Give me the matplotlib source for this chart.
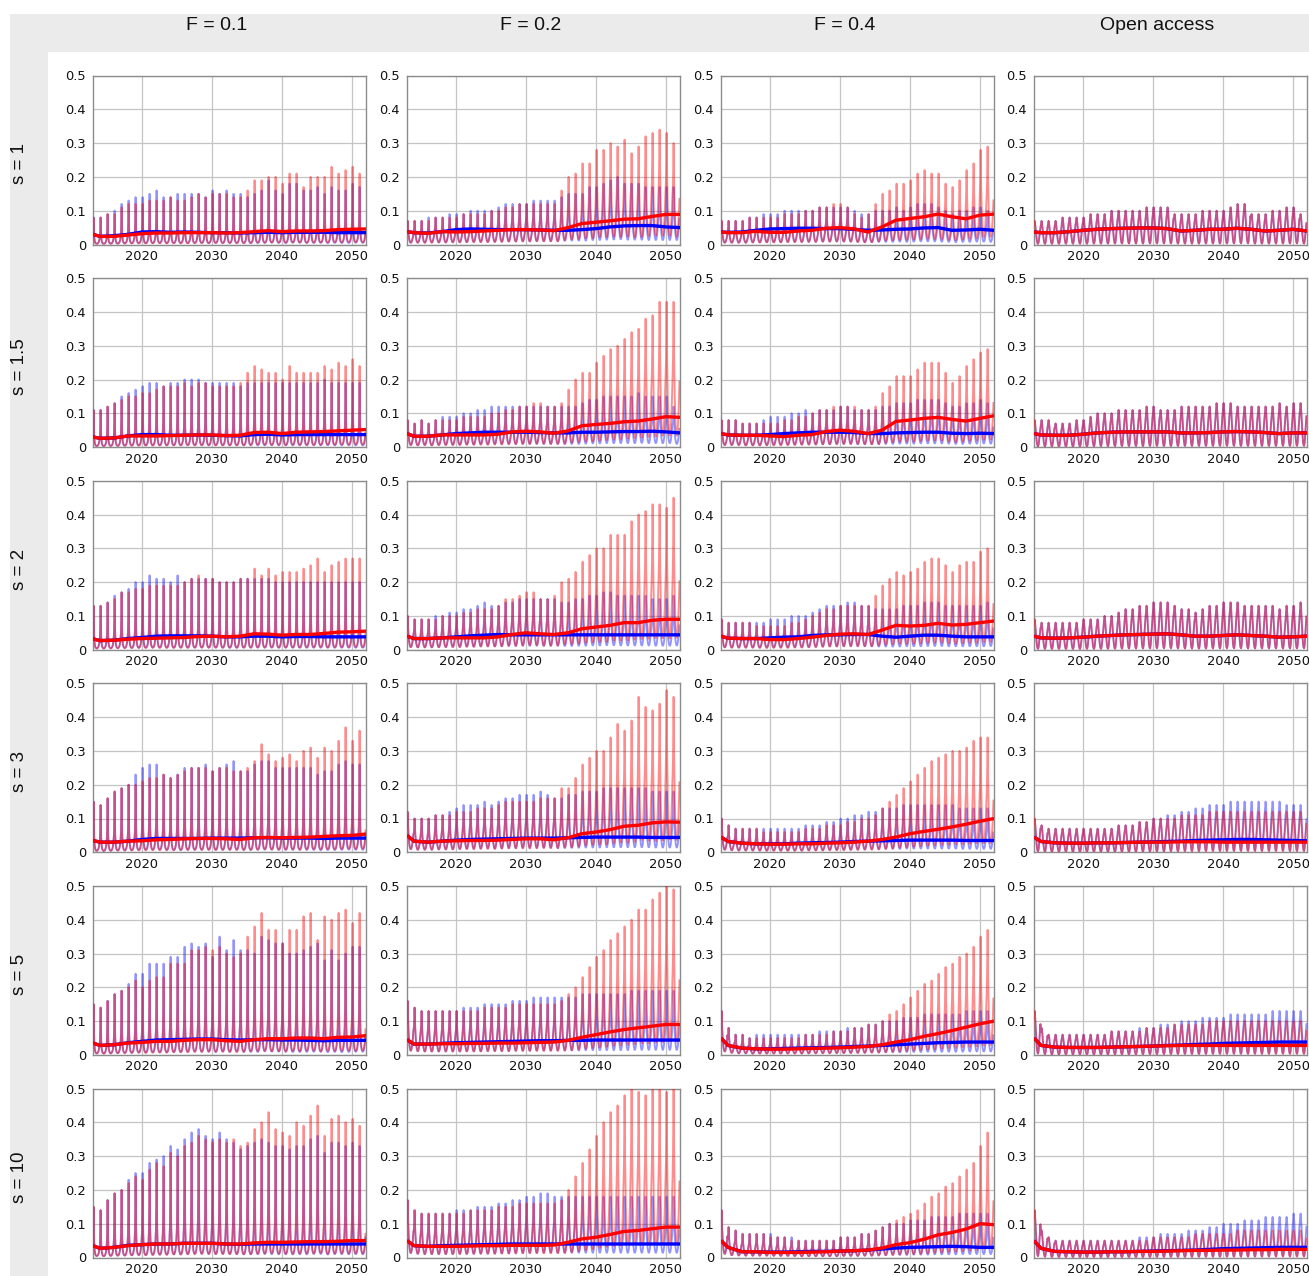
import numpy as np
import matplotlib
matplotlib.use("Agg")
import matplotlib.pyplot as plt
from matplotlib.patches import Rectangle

# ---------------- data ----------------
COLUMNS = ["F = 0.1", "F = 0.2", "F = 0.4", "Open access"]
ROWS = ["s = 1", "s = 1.5", "s = 2", "s = 3", "s = 5", "s = 10"]
PEAK_YEARS = list(range(2013, 2052))          # one seasonal peak per year
MEAN_YEARS = [2013, 2014, 2016, 2018, 2020, 2022, 2024, 2026, 2028, 2030, 2032,
              2034, 2036, 2038, 2040, 2042, 2044, 2046, 2048, 2050, 2052]
X_TICKS = [2020, 2030, 2040, 2050]
Y_TICKS = [0, 0.1, 0.2, 0.3, 0.4, 0.5]
Y_TICK_LABELS = ["0", "0.1", "0.2", "0.3", "0.4", "0.5"]

# seasonal (monthly) shape of each yearly cycle, as a fraction of the yearly peak
SEASON_F01 = [0.30, 1.00, 0.30, 0.12, 0.06, 0.04, 0.03, 0.03, 0.04, 0.06, 0.10, 0.18]
SEASON_F02 = [0.60, 1.00, 0.60, 0.35, 0.20, 0.12, 0.08, 0.08, 0.12, 0.20, 0.30, 0.45]
SEASON_F04 = [0.60, 1.00, 0.60, 0.35, 0.20, 0.12, 0.08, 0.08, 0.12, 0.20, 0.30, 0.45]
SEASON_OA = [0.85, 1.00, 0.85, 0.60, 0.35, 0.15, 0.05, 0.03, 0.10, 0.30, 0.50, 0.70]

# yearly peaks (hundredths), rows s = 1, 1.5, 2, 3, 5, 10
RED_PEAK_F01 = [
    [8,8,9,9,11,12,12,12,13,13,13,14,13,13,14,15,14,15,15,15,14,14,16,19,19,20,20,18,21,21,17,20,20,20,23,21,22,23,21],
    [11,11,12,13,14,15,15,16,16,17,18,18,18,19,18,19,19,18,18,18,18,19,22,24,23,22,22,20,24,22,22,22,22,24,23,25,24,26,24],
    [13,13,14,15,17,17,18,18,19,19,19,19,19,20,21,22,21,21,20,20,20,21,21,24,22,24,22,23,23,23,24,25,27,23,25,26,27,27,27],
    [15,14,16,18,19,20,20,21,22,22,23,22,23,24,25,25,25,24,25,25,24,24,25,27,32,29,27,28,29,27,30,31,28,31,30,33,37,33,36],
    [15,14,16,18,19,20,22,20,22,23,23,27,27,27,31,31,32,31,32,30,29,30,35,38,42,37,37,33,37,37,41,42,34,41,40,42,43,39,42],
    [15,14,17,19,20,22,24,23,26,28,27,31,30,33,34,36,35,34,35,34,35,33,34,38,40,43,38,37,36,40,39,42,45,36,41,42,40,41,39],
]
BLUE_PEAK_F01 = [
    [8,8,9,10,12,13,14,14,15,16,14,14,15,15,15,15,14,16,15,16,15,15,14,15,16,19,16,15,18,18,16,16,17,15,17,16,16,18,17],
    [11,11,12,13,15,16,17,18,19,19,18,19,19,20,20,20,19,19,19,19,19,18,19,19,19,19,19,19,19,19,19,19,19,20,19,19,19,19,19],
    [13,13,14,16,17,18,20,20,22,21,21,20,22,20,21,21,21,21,20,20,20,21,21,21,21,21,20,20,20,20,20,20,20,20,20,20,20,20,20],
    [15,14,16,18,19,20,23,25,26,26,23,22,23,25,25,25,26,24,25,26,27,24,24,26,27,27,25,25,25,25,25,25,23,24,24,26,27,26,26],
    [15,14,16,18,19,21,24,24,27,27,27,29,29,32,33,32,33,29,35,31,34,31,31,30,35,34,33,33,30,30,31,32,33,28,31,28,30,32,32],
    [15,14,17,19,20,23,25,25,28,29,30,33,32,35,37,38,36,35,37,35,34,32,33,34,35,34,33,33,32,33,33,35,36,31,34,34,33,34,33],
]
RED_PEAK_F02 = [
    [7,7,7,7,8,8,8,8,9,9,9,9,10,10,11,11,12,12,12,12,12,12,16,20,21,24,24,28,28,30,29,31,27,29,32,33,34,33,30],
    [8,7,8,7,8,8,8,8,9,9,9,9,10,10,11,11,12,12,13,13,12,12,13,17,20,22,22,25,27,29,30,32,34,35,38,39,43,43,43],
    [10,9,9,9,9,10,10,10,11,11,12,12,12,13,15,15,16,17,17,15,15,16,20,21,23,26,28,30,30,34,34,34,38,40,41,43,43,42,45],
    [12,10,10,10,11,11,11,12,12,12,13,13,13,14,15,15,15,15,15,16,16,16,19,19,22,26,28,30,30,34,38,36,39,46,43,42,44,48,46],
    [16,14,13,13,13,13,13,13,13,13,13,14,14,14,14,15,15,15,15,15,15,15,16,18,20,23,26,29,31,34,36,38,40,43,43,46,48,50,49],
    [17,14,13,13,13,13,13,13,13,14,14,14,14,15,15,15,16,16,16,16,16,16,17,20,24,28,32,36,40,43,45,48,50,49,48,50,50,49,50],
]
BLUE_PEAK_F02 = [
    [7,7,7,8,8,8,9,9,9,10,10,10,10,11,12,12,12,12,13,13,13,13,14,15,15,15,17,17,18,19,20,18,18,18,17,17,17,17,17],
    [8,7,8,7,8,9,9,9,10,10,11,11,12,12,12,12,12,12,12,12,12,12,12,12,12,13,14,14,15,15,15,15,15,16,15,15,15,15,12],
    [10,9,9,9,10,10,11,11,12,12,13,14,13,13,14,14,15,15,15,15,15,15,14,14,15,15,16,16,17,17,16,16,16,16,16,15,15,15,16],
    [12,10,10,10,11,11,12,13,14,14,14,15,14,15,16,16,17,17,17,18,17,16,16,17,17,18,18,18,19,19,19,19,19,19,19,18,18,18,18],
    [16,14,13,13,13,13,13,13,14,14,14,15,15,15,15,16,16,16,17,17,17,17,17,17,17,18,18,18,18,18,18,18,19,19,19,19,19,19,19],
    [17,14,13,13,13,13,13,14,14,14,15,15,15,16,16,17,17,18,18,19,19,18,18,18,18,18,18,18,18,18,18,18,18,18,18,18,18,18,18],
]
RED_PEAK_F04 = [
    [7,7,7,7,8,8,8,8,8,9,9,9,10,10,11,11,12,12,11,9,8,9,12,15,16,18,18,19,21,22,21,21,18,17,19,22,24,28,29],
    [8,8,8,7,7,7,7,7,7,8,8,9,9,10,11,11,12,12,12,12,11,11,12,16,18,21,21,21,23,25,25,25,22,19,21,24,26,28,29],
    [9,8,8,8,8,7,7,7,7,7,8,8,9,10,11,12,12,13,13,13,13,13,16,19,21,23,22,23,24,26,27,27,25,23,25,26,26,29,30],
    [10,8,7,7,7,7,6,6,6,6,6,6,7,7,7,8,8,8,9,9,10,10,11,13,15,17,19,21,23,25,27,28,29,30,30,31,33,34,34],
    [13,8,6,6,5,5,5,5,5,5,5,5,6,6,6,6,7,7,7,8,8,9,9,10,12,13,15,17,19,21,22,24,26,27,29,30,32,35,37],
    [14,9,8,7,7,7,7,6,6,6,5,5,5,5,5,5,5,6,6,6,7,7,8,9,10,11,12,13,14,16,18,19,21,22,24,26,28,33,37],
]
BLUE_PEAK_F04 = [
    [7,7,7,7,8,8,9,9,9,10,10,10,10,10,11,11,11,11,11,10,9,9,10,10,10,11,10,11,12,12,12,11,10,9,10,10,11,11,10],
    [8,8,8,7,7,7,8,9,9,9,10,10,11,10,11,11,11,12,12,11,11,11,11,12,12,13,13,13,14,14,14,14,13,12,12,13,13,14,13],
    [9,8,8,8,8,8,8,9,9,9,10,10,10,11,12,13,13,13,14,14,13,13,12,12,12,12,13,13,13,14,14,14,13,13,13,13,13,13,14],
    [10,8,7,7,7,7,7,7,7,7,7,7,8,8,8,9,9,10,10,11,11,12,12,13,13,13,14,14,14,14,14,14,14,14,13,13,13,13,13],
    [13,8,6,6,5,6,6,6,6,6,6,6,6,6,7,7,7,7,8,8,8,9,9,10,10,10,11,11,11,12,12,12,12,12,12,13,13,13,13],
    [14,9,8,7,7,7,7,7,6,6,6,5,5,5,5,5,5,6,6,6,7,7,8,9,10,10,10,11,11,11,12,12,12,12,13,13,13,13,13],
]
RED_PEAK_OA = [
    [7,7,7,7,8,8,8,8,9,9,9,10,10,10,10,10,11,11,11,11,9,9,9,9,10,10,10,10,11,12,12,9,9,9,10,10,11,11,9],
    [8,8,8,7,7,7,8,8,9,10,10,10,11,11,11,11,12,12,11,11,11,12,12,12,12,12,13,13,13,12,12,12,12,12,12,13,12,13,13],
    [9,8,8,8,8,8,8,9,9,9,10,10,11,12,12,13,13,14,14,14,13,12,12,11,12,13,13,14,14,14,13,13,13,13,13,12,13,13,14],
    [10,8,7,7,7,7,7,7,7,7,7,7,8,8,8,9,9,10,10,10,10,11,11,11,11,12,12,12,12,12,12,12,12,12,12,12,12,12,12],
    [13,8,6,6,6,6,6,6,6,6,6,7,7,7,7,7,8,8,8,8,9,9,9,9,9,10,10,10,10,10,10,10,10,10,10,10,10,10,10],
    [14,8,6,5,5,5,5,5,5,5,5,5,5,5,5,5,5,6,6,6,6,6,6,7,7,7,7,7,7,8,8,8,8,8,8,8,8,8,8],
]
BLUE_PEAK_OA = [
    [7,7,7,7,8,8,8,8,9,9,9,10,10,10,10,10,11,11,11,11,9,9,9,9,10,10,10,10,11,12,12,9,9,9,10,10,11,11,9],
    [8,8,8,7,7,7,8,8,9,10,10,10,11,11,11,11,12,12,11,11,11,12,12,12,12,12,13,13,13,12,12,12,12,12,12,13,12,13,13],
    [9,8,8,8,8,8,8,9,9,9,10,10,11,12,12,13,13,14,14,14,13,12,12,11,12,13,13,14,14,14,13,13,13,13,13,12,13,13,14],
    [10,8,7,7,7,7,7,7,7,7,7,7,8,8,8,9,9,10,10,11,11,12,12,13,13,14,14,14,15,15,15,15,15,15,15,15,14,14,14],
    [13,8,6,6,6,6,6,6,6,6,6,7,7,7,7,8,8,8,9,9,9,10,10,10,11,11,11,11,12,12,12,12,12,12,13,13,13,13,13],
    [14,8,6,5,5,5,5,5,5,5,5,5,5,5,5,6,6,6,7,7,7,7,8,8,8,9,9,10,10,10,11,11,11,12,12,12,12,13,13],
]

# smoothed (thick) lines, thousandths, at MEAN_YEARS
RED_MEAN_F01 = [
    [30,24,24,28,32,34,34,35,35,35,34,35,38,41,38,40,40,41,44,45,46],
    [30,26,27,33,33,33,34,35,36,36,34,35,43,44,40,44,45,46,48,50,52],
    [32,27,28,31,33,34,35,36,39,40,38,40,47,46,43,45,45,48,52,53,55],
    [35,30,30,33,34,37,38,40,41,41,40,38,43,44,43,44,45,47,49,50,54],
    [35,28,30,35,37,40,40,43,45,45,42,40,45,48,48,50,50,48,52,53,57],
    [35,27,30,35,38,40,40,42,42,42,40,40,43,45,45,46,47,47,48,50,50],
]
BLUE_MEAN_F01 = [
    [30,24,26,30,37,38,36,37,36,35,35,34,35,36,35,36,36,36,35,35,35],
    [30,26,27,33,37,37,35,35,36,35,34,33,37,38,36,37,37,37,37,37,37],
    [32,27,28,33,36,40,41,41,41,40,38,38,40,40,38,39,39,38,38,38,38],
    [35,30,30,33,38,41,41,41,41,42,42,42,43,43,42,42,42,41,42,42,42],
    [35,28,30,36,40,44,45,46,47,47,45,44,45,45,44,44,43,42,43,43,43],
    [35,27,30,36,38,40,40,42,42,42,40,39,40,40,40,40,40,40,40,40,40],
]
RED_MEAN_F02 = [
    [38,35,33,38,37,38,40,42,44,44,43,41,50,62,66,70,75,76,83,89,89],
    [40,32,32,36,36,36,36,38,45,47,45,41,48,63,67,70,75,77,83,90,88],
    [40,33,33,35,35,35,35,38,45,50,47,45,50,62,67,72,80,80,87,90,90],
    [50,33,30,33,34,35,35,36,38,40,40,37,43,55,60,67,77,80,87,90,89],
    [45,32,32,33,33,34,34,35,35,36,37,38,43,52,60,68,75,80,85,90,90],
    [50,35,33,33,33,34,35,35,36,36,36,37,45,55,60,68,77,80,85,90,90],
]
BLUE_MEAN_F02 = [
    [38,35,34,38,44,46,45,44,44,44,43,42,42,44,47,52,55,56,56,52,50],
    [40,32,32,36,40,42,44,44,44,44,43,42,42,44,44,45,46,46,47,45,42],
    [40,33,33,35,38,41,43,45,44,44,44,44,44,44,44,44,44,44,44,44,44],
    [50,33,30,33,36,38,39,40,41,42,42,42,43,44,45,45,45,45,44,44,44],
    [45,32,32,34,36,37,38,39,40,41,42,42,43,43,44,44,44,44,44,44,44],
    [50,35,33,35,36,37,38,39,40,40,40,40,40,40,40,40,40,40,40,40,40],
]
RED_MEAN_F04 = [
    [37,35,35,39,36,36,40,42,48,50,46,37,52,72,77,82,90,82,76,87,90],
    [40,36,35,35,33,31,35,37,46,50,47,40,50,76,80,85,88,82,77,85,93],
    [40,34,33,33,30,30,33,37,42,46,47,45,58,72,70,72,78,73,75,80,85],
    [45,32,27,25,24,24,25,25,27,28,30,33,38,45,55,62,68,75,83,92,100],
    [50,28,20,18,17,17,18,19,20,21,23,25,30,38,45,55,63,72,82,92,100],
    [50,30,17,17,15,15,15,16,17,19,20,22,28,38,44,54,67,74,84,100,97],
]
BLUE_MEAN_F04 = [
    [37,36,37,42,46,47,48,48,47,47,45,42,43,45,46,49,50,42,43,45,42],
    [40,36,35,35,37,40,42,44,44,44,43,40,40,42,43,44,44,41,40,41,40],
    [40,34,33,33,35,37,38,42,44,44,45,45,40,37,40,43,43,40,38,38,38],
    [45,32,27,25,25,25,27,28,29,30,32,33,34,35,36,36,36,36,35,35,35],
    [50,28,20,18,18,19,20,21,22,23,25,26,28,30,32,34,36,37,38,38,38],
    [50,30,17,17,16,16,17,18,18,19,20,22,25,28,30,31,32,33,32,30,30],
]
RED_MEAN_OA = [
    [37,35,35,38,42,45,47,48,49,49,47,40,42,45,45,48,45,40,42,45,40],
    [40,36,35,35,38,42,44,45,45,45,45,42,42,43,45,46,45,43,40,42,42],
    [40,35,34,35,37,40,42,44,45,46,47,44,40,40,42,44,42,40,37,38,40],
    [45,32,28,27,27,28,28,29,30,30,30,31,31,31,30,30,30,30,30,30,30],
    [50,28,23,22,22,22,23,24,25,26,27,28,28,28,28,28,28,28,28,28,28],
    [50,27,18,17,16,16,17,17,18,18,19,20,21,21,22,22,23,23,24,24,24],
]
BLUE_MEAN_OA = [
    [37,35,35,38,42,45,47,48,49,49,47,40,42,45,45,48,45,40,42,45,40],
    [40,36,35,35,38,42,44,45,45,45,45,42,42,43,45,46,45,43,40,42,42],
    [40,35,34,35,37,40,42,44,45,46,47,44,40,40,42,44,42,40,37,38,40],
    [45,32,28,27,27,28,28,29,30,31,32,33,35,36,37,38,38,37,36,35,34],
    [50,28,23,22,22,22,23,24,25,26,28,29,31,32,34,35,36,37,38,38,38],
    [50,27,18,17,16,16,17,17,18,19,20,21,22,24,26,27,28,29,30,30,30],
]

COL_RED_PEAK = [RED_PEAK_F01, RED_PEAK_F02, RED_PEAK_F04, RED_PEAK_OA]
COL_BLUE_PEAK = [BLUE_PEAK_F01, BLUE_PEAK_F02, BLUE_PEAK_F04, BLUE_PEAK_OA]
COL_RED_MEAN = [RED_MEAN_F01, RED_MEAN_F02, RED_MEAN_F04, RED_MEAN_OA]
COL_BLUE_MEAN = [BLUE_MEAN_F01, BLUE_MEAN_F02, BLUE_MEAN_F04, BLUE_MEAN_OA]
COL_SEASON = [SEASON_F01, SEASON_F02, SEASON_F04, SEASON_OA]

# ---------------- layout ----------------
W, H = 1309, 1276
fig = plt.figure(figsize=(W / 100, H / 100), dpi=100)
fig.patch.set_facecolor("white")

STRIP = "#ebebeb"
fig.add_artist(Rectangle((10 / W, 1 - 52 / H), 1 - 10 / W, 38 / H,
                         transform=fig.transFigure, facecolor=STRIP, edgecolor="none", zorder=0))
fig.add_artist(Rectangle((10 / W, 0), 38 / W, 1 - 14 / H,
                         transform=fig.transFigure, facecolor=STRIP, edgecolor="none", zorder=0))

AX_LEFT = [93, 407, 721, 1034]
AX_W = 273
AX_TOP0 = 75.5
ROW_PITCH = 202.6
AX_H = 169


def monthly(peaks, season):
    xs = [yr + m / 12.0 for yr in PEAK_YEARS for m in range(12)]
    ys = [p / 100.0 * f for p in peaks for f in season]
    return np.array(xs), np.array(ys)


for c in range(4):
    for r in range(6):
        top = AX_TOP0 + r * ROW_PITCH
        ax = fig.add_axes([AX_LEFT[c] / W, 1 - (top + AX_H) / H, AX_W / W, AX_H / H])
        ax.set_facecolor("white")
        season = COL_SEASON[c]
        xb, yb = monthly(COL_BLUE_PEAK[c][r], season)
        xr, yr_ = monthly(COL_RED_PEAK[c][r], season)
        ax.plot(xb, yb, color="#0000ff", alpha=0.42, lw=1.35, zorder=2)
        ax.plot(xr, yr_, color="#ff0000", alpha=0.45, lw=1.35, zorder=3)
        ax.plot(MEAN_YEARS, np.array(COL_BLUE_MEAN[c][r]) / 1000.0, color="#0000ff",
                lw=2.4, zorder=4, solid_capstyle="butt")
        ax.plot(MEAN_YEARS, np.array(COL_RED_MEAN[c][r]) / 1000.0, color="#ff0000",
                lw=2.4, zorder=5, solid_capstyle="butt")
        ax.set_xlim(2013, 2052)
        ax.set_ylim(0, 0.5)
        ax.set_xticks(X_TICKS)
        ax.set_xticklabels([str(t) for t in X_TICKS])
        ax.set_yticks(Y_TICKS)
        ax.set_yticklabels(Y_TICK_LABELS)
        ax.grid(True, color="#c4c4c4", lw=0.9, zorder=0)
        ax.set_axisbelow(True)
        for sp in ax.spines.values():
            sp.set_color("#8c8c8c")
            sp.set_linewidth(1.0)
        ax.tick_params(axis="both", length=0, labelsize=9.4, colors="#111111")
        ax.tick_params(axis="y", pad=5)
        ax.tick_params(axis="x", pad=4)

        if r == 0:
            fig.text((AX_LEFT[c] + AX_W / 2 - 13) / W, 1 - 26 / H, COLUMNS[c],
                     ha="center", va="center", fontsize=14, family="Liberation Sans",
                     color="#111111")
    if c == 0:
        for r in range(6):
            top = AX_TOP0 + r * ROW_PITCH
            fig.text(19 / W, 1 - (top + AX_H / 2 + 4) / H, ROWS[r], rotation=90,
                     ha="center", va="center", fontsize=13.5, family="Liberation Sans",
                     color="#111111")

fig.savefig("out.png", dpi=100, facecolor="white")
